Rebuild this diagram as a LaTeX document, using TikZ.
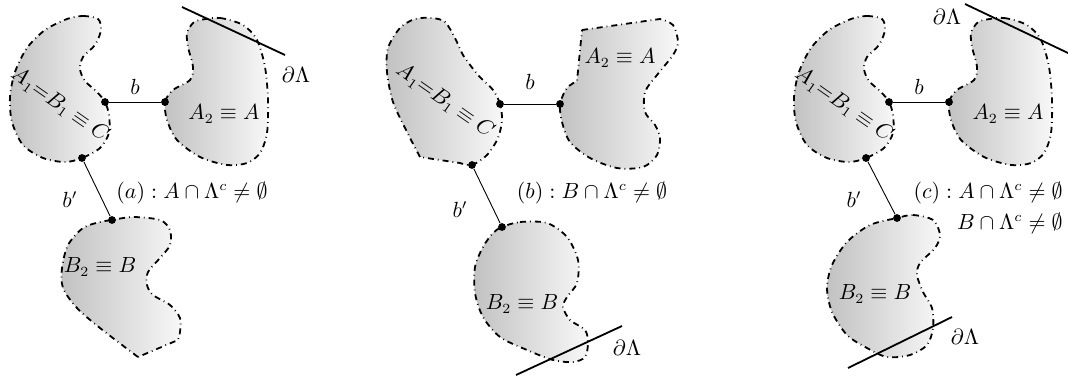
\documentclass[tikz,border=0pt]{standalone}
\tikzset{
  every node/.style={font=\fontsize{10.5}{12.6}\selectfont},
  blob/.style={draw,dash dot,line width=0.9pt,left color=black!24,right color=black!3},
  site/.style={circle,fill,inner sep=0pt,minimum size=3.9pt},
  bond/.style={draw,line width=0.45pt},
  boundary/.style={draw,line width=0.9pt},
}
% kidney A_1 of panels (a) and (c): #1 = x offset, #2 = name prefix
\newcommand{\kidneyone}[2]{%
  \begin{scope}[shift={(#1,0)}]
    \path[blob] plot[smooth cycle] coordinates {(67,19) (83,16) (98,19) (101,30) (95,45) (83,57)
      (80,69) (85,81) (97,92) (105,102) (109,115) (109,133) (100,148) (82,158) (65,162)
      (43,158) (23,145) (12,122) (10,97) (15,72) (27,48) (45,30)};
    \node[site] (#2Ar) at (105,102) {};
    \node[site] (#2Ad) at (82,158) {};
    \node[rotate=-35] (#2Atxt) at (60,105) {$A_1{=}B_1\equiv C$};
  \end{scope}}
% kidney A_2 of panels (a) and (c)
\newcommand{\kidneytwo}[2]{%
  \begin{scope}[shift={(#1,0)}]
    \path[blob] plot[smooth cycle] coordinates {(200,20) (220,18) (243,25) (257,40) (265,67)
      (268,100) (267,133) (260,153) (247,163) (227,165) (200,157) (177,140) (167,120)
      (165,102) (173,90) (190,80) (193,67) (188,47) (187,33) (193,23)};
    \node[site] (#2Al) at (165,102) {};
    \node (#2Btxt) at (224,114) {$A_2\equiv A$};
  \end{scope}}

\begin{document}
\begin{tikzpicture}[x=0.5pt,y=-0.5pt]
  \useasboundingbox (0,0) rectangle (1068,381);
  % --- panel (a) ---
  \kidneyone{0}{a}
  \kidneytwo{0}{a}
  \path[blob] plot[smooth] coordinates {(138,357) (100,328) (77,308) (63,288) (62,268) (68,245)
    (83,228) (100,222) (112,220) (133,217) (160,220) (170,230) (170,245) (160,258) (148,272)
    (147,285) (153,295) (170,305) (180,318) (180,332) (178,340)} -- cycle;
  \node[site] (aBu) at (112,220) {};
  \node (aCtxt) at (100,267) {$B_2\equiv B$};
  \draw[bond] (aAr) -- node[above] (ab) {$b$} (aAl);
  \draw[bond] (aAd) -- (aBu);
  \node (abp) at (70,200) {$b'$};
  \coordinate (aL1) at (182,7);
  \coordinate (aL2) at (285,55);
  \draw[boundary] (aL1) -- (aL2);
  \node (adl) at (296,75) {$\partial\Lambda$};
  \node (acap) at (192,193) {$(a):A\cap\Lambda^c\neq\emptyset$};
  % --- panel (b) ---
  \path[blob] plot[smooth] coordinates {(420,157) (407,132) (393,102) (387,72) (388,48) (400,28)
    (415,19) (432,18) (445,22) (455,38) (463,55) (478,75) (493,90) (500,104) (502,120)
    (498,138) (487,155) (472,165) (460,163)} -- cycle;
  \path[blob] (582,30) -- plot[smooth] coordinates {(660,19) (673,25) (678,42) (673,55) (657,75)
    (645,92) (645,112) (655,125) (660,138) (657,155) (643,167) (617,168) (590,158) (570,142)
    (562,122) (560,104) (567,88) (577,81)} -- cycle;
  \path[blob] plot[smooth cycle] coordinates {(502,227) (520,222) (547,223) (567,237) (578,260)
    (577,283) (567,297) (563,307) (570,320) (585,330) (588,343) (585,357) (573,362) (553,360)
    (527,350) (500,337) (483,317) (475,293) (475,267) (483,247) (493,233)};
  \node[site] (bAr) at (500,104) {};
  \node[site] (bAd) at (472,165) {};
  \node[site] (bAl) at (560,104) {};
  \node[site] (bBu) at (502,227) {};
  \node[rotate=-35] (bAtxt) at (445,101) {$A_1{=}B_1\equiv C$};
  \node (bBtxt) at (620,58) {$A_2\equiv A$};
  \node (bCtxt) at (522,304) {$B_2\equiv B$};
  \draw[bond] (bAr) -- node[above=3.7pt] (bb) {$b$} (bAl);
  \draw[bond] (bAd) -- (bBu);
  \node (bbp) at (460,210) {$b'$};
  \coordinate (bL1) at (516,375);
  \coordinate (bL2) at (622,326);
  \draw[boundary] (bL1) -- (bL2);
  \node (bdl) at (627,348) {$\partial\Lambda$};
  \node (bcap) at (592,193) {$(b):B\cap\Lambda^c\neq\emptyset$};
  % --- panel (c) ---
  \kidneyone{784}{c}
  \kidneytwo{784}{c}
  \path[blob] plot[smooth cycle] coordinates {(897,218) (913,215) (933,220) (940,235) (935,248)
    (920,263) (917,275) (923,292) (932,308) (933,328) (927,345) (910,355) (887,357) (867,348)
    (847,335) (832,312) (827,288) (832,265) (847,242) (870,225)};
  \node[site] (cBu) at (897,218) {};
  \node (cCtxt) at (875,294) {$B_2\equiv B$};
  \draw[bond] (cAr) -- node[above] (cb) {$b$} (cAl);
  \draw[bond] (cAd) -- (cBu);
  \node (cbp) at (854,200) {$b'$};
  \coordinate (cL1) at (965,4);
  \coordinate (cL2) at (1068,53);
  \draw[boundary] (cL1) -- (cL2);
  \node (cdl) at (947,17) {$\partial\Lambda$};
  \coordinate (cL3) at (848,368);
  \coordinate (cL4) at (952,317);
  \draw[boundary] (cL3) -- (cL4);
  \node (cdm) at (965,337) {$\partial\Lambda$};
  \node[align=right,anchor=east,inner sep=0pt] (ccap) at (1063,208)
    {$(c):A\cap\Lambda^c\neq\emptyset$\\[3pt] $B\cap\Lambda^c\neq\emptyset$};
\end{tikzpicture}
\end{document}
